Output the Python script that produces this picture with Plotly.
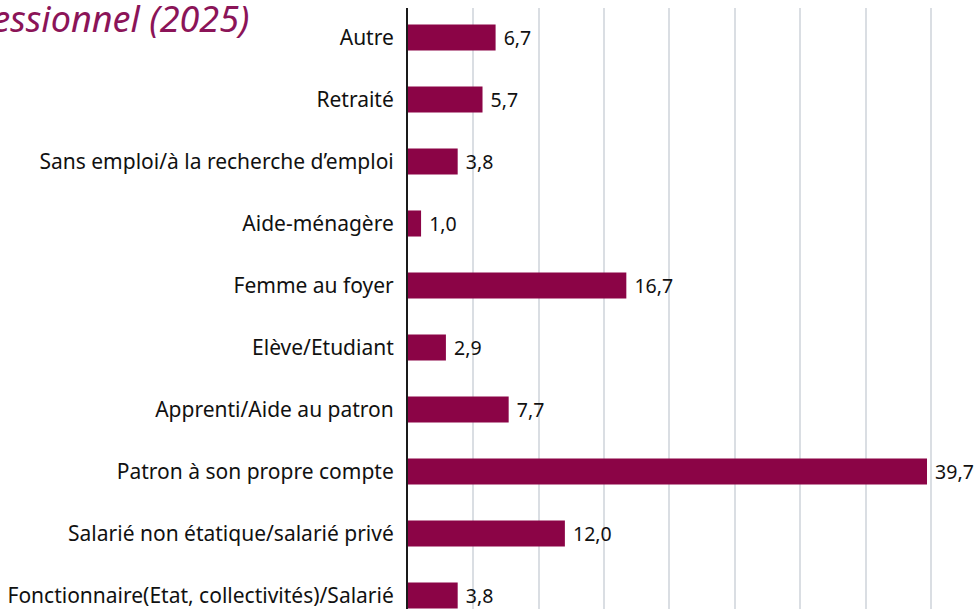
import plotly.graph_objects as go

categories = [
    "Fonctionnaire(Etat, collectivités)/Salarié",
    "Salarié non étatique/salarié privé",
    "Patron à son propre compte",
    "Apprenti/Aide au patron",
    "Elève/Etudiant",
    "Femme au foyer",
    "Aide-ménagère",
    "Sans emploi/à la recherche d’emploi",
    "Retraité",
    "Autre",
]
values = [3.8, 12.0, 39.7, 7.7, 2.9, 16.7, 1.0, 3.8, 5.7, 6.7]
labels = [f"{v:.1f}".replace(".", ",") for v in values]

title_text = "Répartition selon le statut professionnel (2025)"

BAR = "#8B0446"
FONT = "Noto Sans"

fig = go.Figure(
    go.Bar(
        x=values,
        y=categories,
        orientation="h",
        marker=dict(color=BAR, line=dict(width=0)),
        text=labels,
        texttemplate=" %{text}",
        textposition="outside",
        cliponaxis=False,
        textfont=dict(family=FONT, size=21, color="#111111"),
        width=0.42,
    )
)

fig.update_layout(
    width=978,
    height=609,
    margin=dict(l=408, r=0, t=8, b=0, autoexpand=False),
    paper_bgcolor="white",
    plot_bgcolor="white",
    showlegend=False,
    font=dict(family=FONT, size=21, color="#111111"),
    annotations=[
        dict(
            text=title_text,
            xref="paper",
            yref="paper",
            x=-0.2754,
            y=0.983,
            xanchor="right",
            yanchor="middle",
            showarrow=False,
            font=dict(family=FONT, size=36, color="#8B1458", style="italic"),
        )
    ],
)

fig.update_xaxes(
    range=[0, 43.6],
    dtick=5,
    showgrid=True,
    gridcolor="#DADEE3",
    gridwidth=2,
    showticklabels=False,
    zeroline=False,
    showline=False,
)
fig.update_yaxes(
    type="category",
    range=[-0.218, 9.476],
    showline=True,
    linecolor="#1a1a1a",
    linewidth=2,
    showgrid=False,
    ticks="",
    ticklabelstandoff=8,
    tickfont=dict(family=FONT, size=21, color="#111111"),
)

fig.write_html(
    "out.html",
    config={"displayModeBar": False},
    post_script="document.body.style.margin='0px';document.body.style.overflow='hidden';",
)
